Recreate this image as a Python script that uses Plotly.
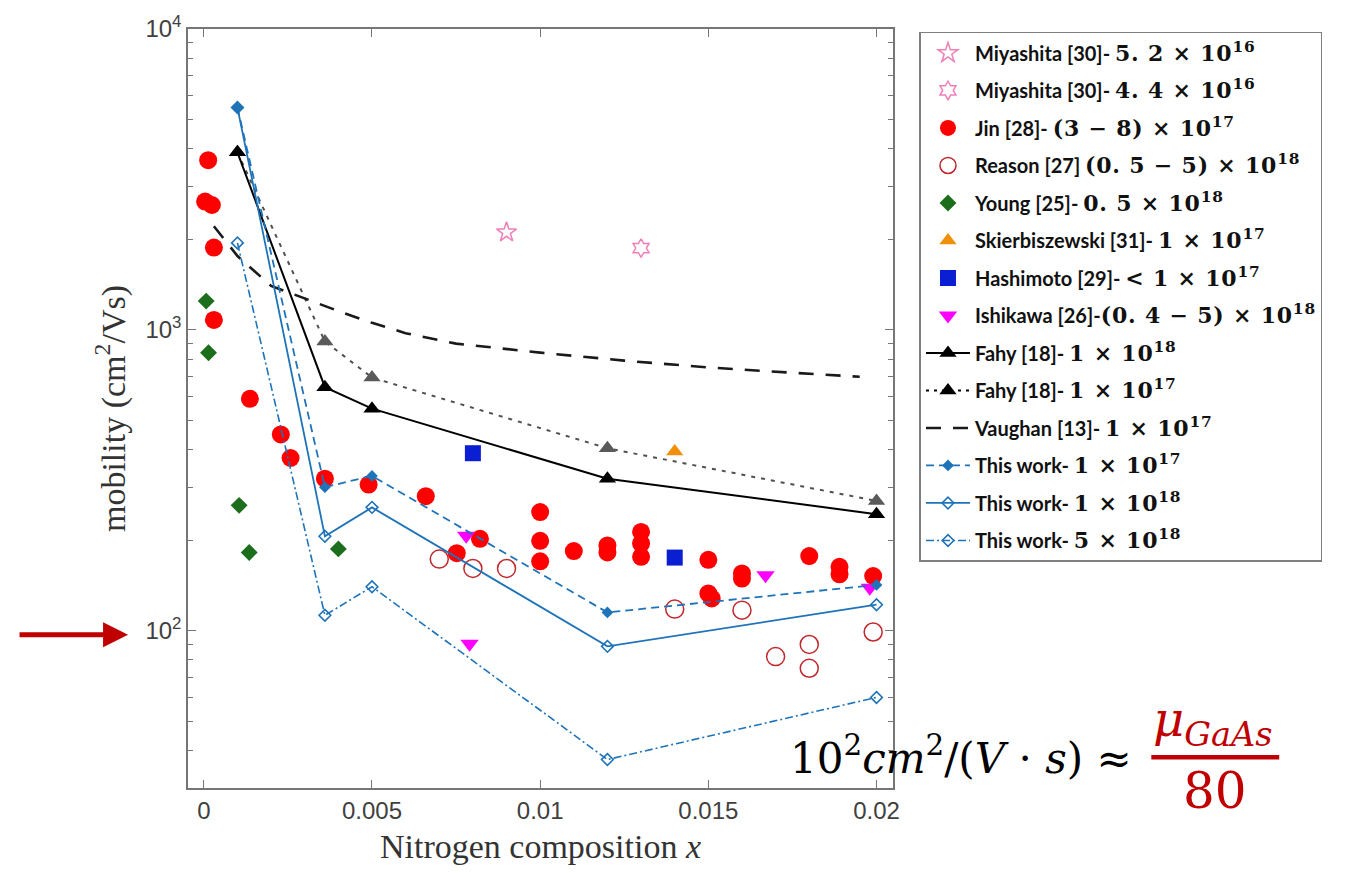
import math
import plotly.graph_objects as go

# ---------------- data ----------------
# Miyashita [30]
miy52_x = [0.009]
miy52_y = [2110]
miy44_x = [0.013]
miy44_y = [1870]

# Jin [28]
jin_x = [0.00013, 0.00004, 0.00024, 0.0003, 0.0003, 0.00137, 0.00229, 0.00258,
         0.0036, 0.0049, 0.0066, 0.00821, 0.00752, 0.0100, 0.0100, 0.0100,
         0.0110, 0.0120, 0.0120, 0.0130, 0.0130, 0.0130, 0.0150, 0.0150,
         0.0151, 0.0160, 0.0160, 0.0180, 0.0189, 0.0189, 0.0199]
jin_y = [3665, 2670, 2600, 1877, 1079, 590, 449, 375,
         320, 306, 280, 202, 181, 248, 199, 170,
         184, 192, 182, 213, 195, 176, 172, 133,
         128, 155, 149, 177, 163, 154, 152]

# Reason [27]
reason_x = [0.0070, 0.0080, 0.0090, 0.0140, 0.0160, 0.0170, 0.0180, 0.0180, 0.0199]
reason_y = [173, 161, 161, 118, 117, 82, 90, 75, 99]

# Young [25]
young_x = [0.00007, 0.00014, 0.00105, 0.00135, 0.0040]
young_y = [1246, 839, 261, 182, 187]

# Skierbiszewski [31]
skier_x = [0.014]
skier_y = [394]

# Hashimoto [29]
hashi_x = [0.008, 0.014]
hashi_y = [389, 175]

# Ishikawa [26]
ishi_x = [0.0078, 0.0079, 0.0167, 0.0198]
ishi_y = [207, 90.5, 153, 139]

# Fahy [18]
fahy_x = [0.001, 0.0036, 0.005, 0.012, 0.02]
fahy18_y = [3890, 645, 547, 320, 244]
fahy17_y = [3890, 915, 694, 404, 270]

# Vaughan [13]
vaughan_x = [0.0003, 0.001, 0.002, 0.003, 0.004, 0.005, 0.006, 0.0075,
             0.010, 0.0125, 0.015, 0.0175, 0.0195]
vaughan_y = [2210, 1760, 1400, 1270, 1155, 1055, 975, 900,
             840, 790, 750, 720, 698]

# This work
tw_x = [0.001, 0.0036, 0.005, 0.012, 0.02]
tw17_y = [5480, 300, 327, 115, 142]
tw18_y = [5480, 206, 257, 88.7, 122]
tw5e18_y = [1945, 112.5, 140, 37.3, 60]

x_ticks = [0, 0.005, 0.01, 0.015, 0.02]
x_ticktext = ["0", "0.005", "0.01", "0.015", "0.02"]
y_ticks = [100, 1000, 10000]
y_ticktext = ["10<sup>2</sup>", "10<sup>3</sup>", "10<sup>4</sup>"]
y_minor = [v * m for v in (10, 100, 1000) for m in range(2, 10) if v * m >= 30]

# ---------------- styling helpers ----------------
BLUE = "#1f73b8"
MATH_FONT = "DejaVu Serif"


def mtx(s):
    return (f"<span style='font-family:{MATH_FONT};font-size:22px;"
            f"letter-spacing:0.8px'>{s}</span>")


def sci(mant, exp):
    return mtx(f"{mant} × 10<sup>{exp}</sup>")


fig = go.Figure()

rank = iter(range(10, 1000, 10))


def add(**kw):
    r = next(rank)
    kw.setdefault("legendgroup", f"g{r}")
    kw.setdefault("legendrank", r)
    fig.add_trace(go.Scatter(**kw))


add(x=miy52_x, y=miy52_y, mode="markers",
    name="Miyashita [30]- " + sci("5. 2", 16),
    marker=dict(symbol="star-open", size=15, color="#f080b8", line=dict(width=1.5)))
add(x=miy44_x, y=miy44_y, mode="markers",
    name="Miyashita [30]- " + sci("4. 4", 16),
    marker=dict(symbol="hexagram-open", size=14, color="#f080b8", line=dict(width=1.5)))
add(x=jin_x, y=jin_y, mode="markers",
    name="Jin [28]- " + mtx("(3 − 8) × 10<sup>17</sup>"),
    marker=dict(symbol="circle", size=18, color="#ff0000", line=dict(width=0)))
add(x=reason_x, y=reason_y, mode="markers",
    name="Reason [27] " + mtx("(0. 5 − 5) × 10<sup>18</sup>"),
    marker=dict(symbol="circle-open", size=18, color="#c0282d", line=dict(width=1.5)))
add(x=young_x, y=young_y, mode="markers",
    name="Young [25]- " + sci("0. 5", 18),
    marker=dict(symbol="diamond", size=13, color="#1c6e1c", line=dict(width=0)))
add(x=skier_x, y=skier_y, mode="markers",
    name="Skierbiszewski [31]- " + sci("1", 17),
    marker=dict(symbol="triangle-up", size=15, color="#f0900a", line=dict(width=0)))
add(x=hashi_x, y=hashi_y, mode="markers",
    name="Hashimoto [29]- " + mtx("&lt; 1 × 10<sup>17</sup>"),
    marker=dict(symbol="square", size=16, color="#0a1ed2", line=dict(width=0)))
add(x=ishi_x, y=ishi_y, mode="markers",
    name="Ishikawa [26]-" + mtx("(0. 4 − 5) × 10<sup>18</sup>"),
    marker=dict(symbol="triangle-down", size=16, color="#ff00ff", line=dict(width=0)))

# Fahy 1e17 is drawn beneath Fahy 1e18; its legend entry uses black markers
r_f18 = next(rank)
r_f17 = next(rank)
fig.add_trace(go.Scatter(x=fahy_x, y=fahy17_y, mode="lines+markers", showlegend=False,
                         legendgroup="fahy17",
                         line=dict(color="#505050", width=2, dash="4px,6px"),
                         marker=dict(symbol="triangle-up", size=15, color="#5a5a5a")))
fig.add_trace(go.Scatter(x=fahy_x, y=fahy18_y, mode="lines+markers", legendgroup="fahy18",
                         legendrank=r_f18, name="Fahy [18]- " + sci("1", 18),
                         line=dict(color="black", width=2),
                         marker=dict(symbol="triangle-up", size=15, color="black")))
fig.add_trace(go.Scatter(x=[None], y=[None], mode="lines+markers", legendgroup="fahy17",
                         legendrank=r_f17, name="Fahy [18]- " + sci("1", 17),
                         line=dict(color="black", width=2, dash="3px,5px"),
                         marker=dict(symbol="triangle-up", size=15, color="black")))

add(x=vaughan_x, y=vaughan_y, mode="lines",
    name="Vaughan [13]- " + sci("1", 17),
    line=dict(color="#1a1a1a", width=2.6, dash="15px,12px"))
add(x=tw_x, y=tw17_y, mode="lines+markers",
    name="This work- " + sci("1", 17),
    line=dict(color=BLUE, width=1.8, dash="8px,5px"),
    marker=dict(symbol="diamond", size=9, color=BLUE))
add(x=tw_x, y=tw18_y, mode="lines+markers",
    name="This work- " + sci("1", 18),
    line=dict(color=BLUE, width=1.8),
    marker=dict(symbol="diamond-open", size=9, color=BLUE, line=dict(width=1.6)))
add(x=tw_x, y=tw5e18_y, mode="lines+markers",
    name="This work- " + sci("5", 18),
    line=dict(color=BLUE, width=1.6, dash="8px,3px,2px,3px"),
    marker=dict(symbol="diamond-open", size=9, color=BLUE, line=dict(width=1.6)))

# ---------------- layout ----------------
W, H = 1357, 873
L, R, T, B = 188, 893.5, 20, 788
PW, PH = R - L, B - T


def px(xp):
    return (xp - L) / PW


def py(yp):
    return (B - yp) / PH


axis_common = dict(showline=True, linecolor="#767676", linewidth=1.5, mirror="ticks",
                   ticks="inside", ticklen=8, tickwidth=1.2, tickcolor="#767676",
                   showgrid=False, zeroline=False,
                   tickfont=dict(family="Liberation Sans", size=24, color="#404040"))

fig.update_layout(
    width=W, height=H,
    margin=dict(l=L, r=W - R, t=T, b=H - B),
    paper_bgcolor="white", plot_bgcolor="white",
    xaxis=dict(range=[-0.00047, 0.02049], tickvals=x_ticks, ticktext=x_ticktext,
               title=dict(text="Nitrogen composition <i>x</i>", standoff=12,
                          font=dict(family="Liberation Serif", size=34, color="#333333")),
               **axis_common),
    yaxis=dict(type="log", range=[math.log10(30), 4],
               tickvals=y_ticks, ticktext=y_ticktext,
               minor=dict(tickvals=y_minor, ticks="inside", ticklen=5, tickwidth=1,
                          tickcolor="#767676"),
               title=dict(text="mobility (cm<sup>2</sup>/Vs)", standoff=10,
                          font=dict(family="Liberation Serif", size=34, color="#333333")),
               **axis_common),
    legend=dict(x=px(920), y=py(23), xanchor="left", yanchor="top",
                bordercolor="#7f7f7f", borderwidth=1.5, bgcolor="white",
                font=dict(family="Lato", size=20, color="#111111", weight="bold"),
                tracegroupgap=8.5, itemwidth=44, traceorder="grouped"),
)

RED = "#c00000"
# equation beside the plot
fig.add_annotation(xref="paper", yref="paper", x=px(962), y=py(755), showarrow=False,
                   text="10<sup>2</sup><i>cm</i><sup>2</sup>/(<i>V</i> · <i>s</i>) ≈",
                   font=dict(family=MATH_FONT, size=42, color="black"),
                   xanchor="center", yanchor="middle")
fig.add_annotation(xref="paper", yref="paper", x=px(1214), y=py(722), showarrow=False,
                   text="<i>μ<sub>GaAs</sub></i>",
                   font=dict(family=MATH_FONT, size=48, color=RED),
                   xanchor="center", yanchor="middle")
fig.add_annotation(xref="paper", yref="paper", x=px(1216), y=py(791), showarrow=False,
                   text="80", font=dict(family=MATH_FONT, size=50, color=RED),
                   xanchor="center", yanchor="middle")
fig.add_shape(type="line", xref="paper", yref="paper",
              x0=px(1152), x1=px(1280), y0=py(757), y1=py(757),
              line=dict(color=RED, width=4.5))

# arrow pointing at the 10^2 tick label
fig.add_annotation(xref="paper", yref="paper", x=px(128), y=py(633),
                   ax=-110, ay=0, axref="pixel", ayref="pixel",
                   showarrow=True, arrowhead=2, arrowsize=1, arrowwidth=5,
                   arrowcolor=RED, text="")

fig.write_html("out.html")
